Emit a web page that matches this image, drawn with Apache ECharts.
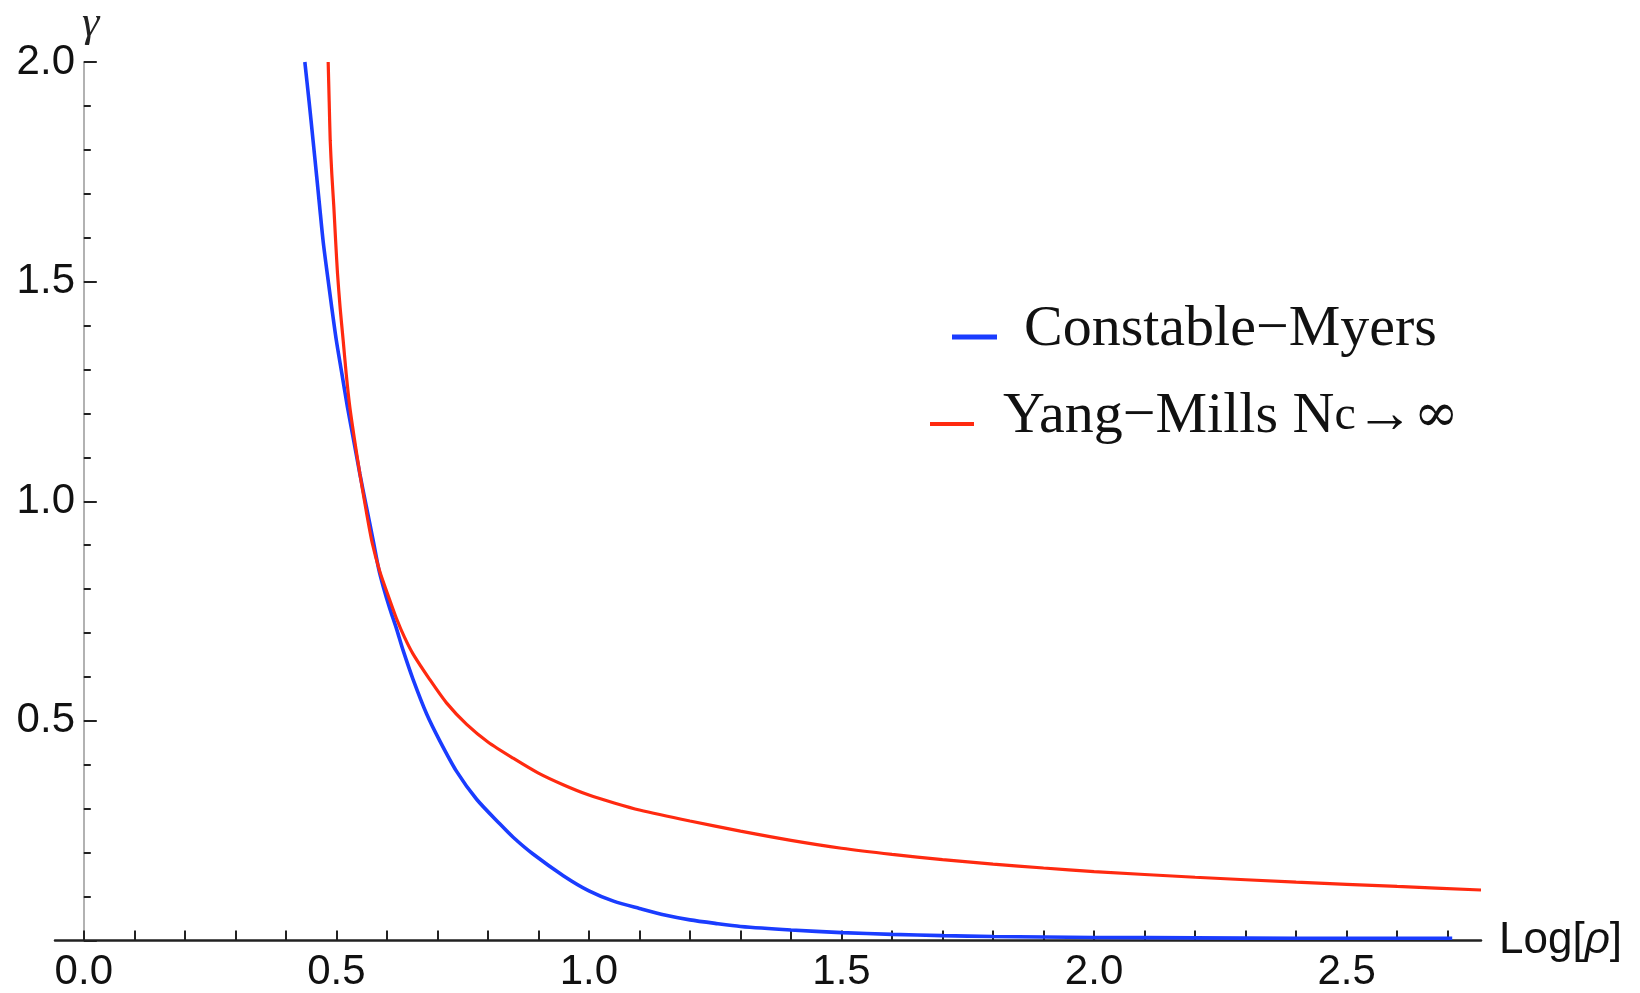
<!DOCTYPE html>
<html><head><meta charset="utf-8">
<script src="https://cdn.jsdelivr.net/npm/echarts@6/dist/echarts.min.js"></script>
<style>html,body{margin:0;padding:0;background:#fff}#c{width:1640px;height:993px}</style>
</head><body><div id="c"></div>
<script>
// Constable–Myers curve (blue)
const cmX = [0.4376, 0.446, 0.454, 0.461, 0.467, 0.474, 0.482, 0.491, 0.500, 0.511, 0.522, 0.534, 0.5465, 0.559, 0.573, 0.584, 0.593, 0.606, 0.619, 0.632, 0.652, 0.679, 0.705, 0.738, 0.778, 0.824, 0.85, 0.888, 0.95, 1.00, 1.05, 1.10, 1.15, 1.20, 1.25, 1.30, 1.40, 1.50, 1.60, 1.70, 1.80, 1.90, 2.00, 2.20, 2.40, 2.60, 2.709];
const cmY = [2.0, 1.91, 1.82, 1.74, 1.67, 1.59, 1.518, 1.44, 1.366, 1.29, 1.214, 1.14, 1.0625, 0.99, 0.91, 0.845, 0.805, 0.755, 0.71, 0.661, 0.594, 0.515, 0.454, 0.385, 0.321, 0.265, 0.235, 0.198, 0.147, 0.113, 0.089, 0.073, 0.058, 0.047, 0.039, 0.032, 0.024, 0.018, 0.014, 0.011, 0.009, 0.008, 0.007, 0.006, 0.005, 0.005, 0.005];
// Yang–Mills Nc -> infinity curve (red)
const ymX = [0.4838, 0.4858, 0.4878, 0.491, 0.495, 0.4985, 0.5023, 0.5075, 0.5135, 0.5195, 0.5267, 0.536, 0.5465, 0.558, 0.571, 0.586, 0.602, 0.619, 0.635, 0.652, 0.685, 0.718, 0.758, 0.80, 0.85, 0.90, 0.95, 1.00, 1.05, 1.10, 1.20, 1.30, 1.40, 1.50, 1.60, 1.70, 1.80, 1.90, 2.00, 2.20, 2.40, 2.60, 2.766];
const ymY = [2.0, 1.91, 1.822, 1.745, 1.67, 1.594, 1.518, 1.44, 1.366, 1.29, 1.214, 1.14, 1.0625, 0.985, 0.905, 0.84, 0.787, 0.733, 0.69, 0.652, 0.594, 0.541, 0.492, 0.452, 0.415, 0.381, 0.354, 0.331, 0.313, 0.297, 0.272, 0.249, 0.228, 0.210, 0.196, 0.184, 0.174, 0.165, 0.157, 0.144, 0.133, 0.123, 0.115];

const xTickValues = [0, 0.1, 0.2, 0.3, 0.4, 0.5, 0.6, 0.7, 0.8, 0.9, 1.0, 1.1, 1.2, 1.3, 1.4, 1.5, 1.6, 1.7, 1.8, 1.9, 2.0, 2.1, 2.2, 2.3, 2.4, 2.5, 2.6, 2.7];
const xLabelValues = [0, 0.5, 1.0, 1.5, 2.0, 2.5];
const seriesNames = ['Constable−Myers', 'Yang−Mills Nc→∞'];
const colors = ['#1a3cff', '#ff2a10'];

const zip = (xs, ys) => xs.map((x, i) => [x, ys[i]]);

const chart = echarts.init(document.getElementById('c'), null, {renderer: 'canvas'});
const tickFont = 'Liberation Sans, Arial, sans-serif';
const serif = 'Liberation Serif, Times New Roman, serif';

chart.setOption({
  animation: false,
  backgroundColor: '#fff',
  grid: {left: 55, right: 159, top: 62, bottom: 52.5, outerBoundsMode: 'none', containLabel: false},
  xAxis: {
    type: 'value', min: -0.057, max: 2.766,
    axisLine: {onZero: true, lineStyle: {color: '#222', width: 2.5}},
    axisTick: {inside: true, length: 10, customValues: xTickValues, lineStyle: {color: '#222', width: 2}},
    axisLabel: {customValues: xLabelValues, formatter: v => v.toFixed(1), fontSize: 42, fontFamily: tickFont, color: '#111', margin: 11},
    splitLine: {show: false},
    name: '{n|Log[}{r|ρ}{n|]}', nameLocation: 'end', nameGap: 18,
    nameTextStyle: {rich: {
      n: {fontFamily: tickFont, fontSize: 44, color: '#111'},
      r: {fontFamily: tickFont, fontSize: 44, fontStyle: 'italic', color: '#111'}
    }}
  },
  yAxis: {
    type: 'value', min: 0, max: 2, interval: 0.5,
    axisLine: {onZero: true, lineStyle: {color: '#999', width: 1.5}},
    axisTick: {inside: true, length: 13, lineStyle: {color: '#222', width: 2}},
    minorTick: {show: true, splitNumber: 5, length: 7, lineStyle: {color: '#222', width: 2}},
    axisLabel: {formatter: v => v === 0 ? '' : v.toFixed(1), fontSize: 42, fontFamily: tickFont, color: '#111', margin: -20},
    splitLine: {show: false}, minorSplitLine: {show: false},
    name: 'γ', nameLocation: 'end', nameGap: 16,
    nameTextStyle: {fontFamily: serif, fontStyle: 'italic', fontSize: 44, color: '#222', padding: [0, 0, 0, 14]}
  },
  legend: [
    {
      data: [seriesNames[0]], left: 947, top: 296, icon: 'rect', itemWidth: 45, itemHeight: 5,
      selectedMode: false,
      formatter: () => '{a|Constable−Myers}',
      textStyle: {rich: {a: {fontFamily: serif, fontSize: 58, color: '#111', lineHeight: 60, padding: [0, 0, 14, 22]}}}
    },
    {
      data: [seriesNames[1]], left: 925, top: 383, icon: 'rect', itemWidth: 44, itemHeight: 4,
      selectedMode: false,
      formatter: () => '{p|Yang−Mills N}{s|c}{a|→}{i|∞}',
      textStyle: {rich: {
        p: {fontFamily: serif, fontSize: 58, color: '#111', lineHeight: 60, padding: [0, 0, 14, 24]},
        s: {fontFamily: serif, fontSize: 48, color: '#111', lineHeight: 40, verticalAlign: 'bottom', padding: [0, 0, 14, 0]},
        a: {fontFamily: serif, fontSize: 58, color: '#111', lineHeight: 60, padding: [0, 0, 14, 0]},
        i: {fontFamily: 'DejaVu Serif, serif', fontSize: 54, color: '#111', lineHeight: 60, padding: [0, 0, 14, 0]}
      }}
    }
  ],
  series: [
    {
      name: seriesNames[0], type: 'line', data: zip(cmX, cmY), showSymbol: false, symbol: 'none',
      smooth: 0.25, color: colors[0],
      itemStyle: {color: colors[0]}, lineStyle: {color: colors[0], width: 3.6}
    },
    {
      name: seriesNames[1], type: 'line', data: zip(ymX, ymY), showSymbol: false, symbol: 'none',
      smooth: 0.25, color: colors[1],
      itemStyle: {color: colors[1]}, lineStyle: {color: colors[1], width: 3.2}
    }
  ]
});
</script>
</body></html>
